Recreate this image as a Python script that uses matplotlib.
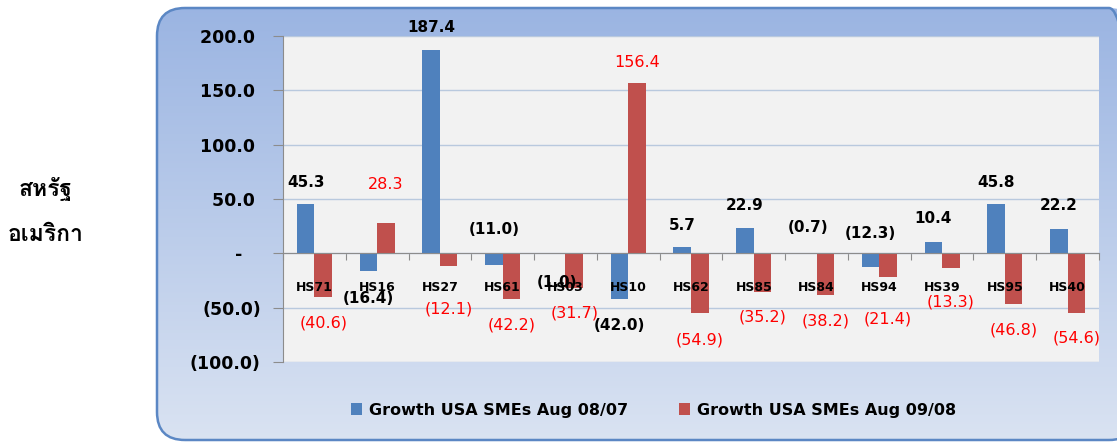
import numpy as np
import matplotlib
matplotlib.use('Agg')
import matplotlib.pyplot as plt
from matplotlib import font_manager
from matplotlib.ft2font import FT2Font
from matplotlib.patches import FancyBboxPatch

# Data
categories = ['HS71', 'HS16', 'HS27', 'HS61', 'HS03', 'HS10', 'HS62',
              'HS85', 'HS84', 'HS94', 'HS39', 'HS95', 'HS40']
growth_0807 = [45.3, -16.4, 187.4, -11.0, -1.0, -42.0, 5.7,
               22.9, -0.7, -12.3, 10.4, 45.8, 22.2]
growth_0908 = [-40.6, 28.3, -12.1, -42.2, -31.7, 156.4, -54.9,
               -35.2, -38.2, -21.4, -13.3, -46.8, -54.6]
series_names = ['Growth USA SMEs Aug 08/07', 'Growth USA SMEs Aug 09/08']
y_ticks = [200, 150, 100, 50, 0, -50, -100]
y_tick_labels = ['200.0 ', '150.0 ', '100.0 ', '50.0 ', '-   ', '(50.0)', '(100.0)']
country_label = 'สหรัฐ\nอเมริกา'

# Layout: where the data labels sit (data units), as placed in the original
label_y_0807 = [65, -41.5, 208, 22, -27, -66, 26, 44, 24, 18, 32, 65, 44]
label_y_0908 = [-64, 63, -51, -66, -55, 176, -80, -59, -62, -60, -45, -71, -78]
cat_label_y = -31

blue = '#4F81BD'
red = '#C0504D'


def fmt(v):
    return f'({abs(v):.1f})' if v < 0 else f'{v:.1f}'


def find_font(ch):
    for f in font_manager.fontManager.ttflist:
        try:
            if ord(ch) in FT2Font(f.fname).get_charmap():
                return f.name
        except Exception:
            pass
    return 'DejaVu Sans'


thai_font = find_font('ส')

W, H = 1117, 443
fig = plt.figure(figsize=(W / 100, H / 100), dpi=100)

# rounded gradient panel behind the chart
bg = fig.add_axes([0, 0, 1, 1], zorder=-2)
bg.set_xlim(0, W)
bg.set_ylim(0, H)
bg.axis('off')
grad = np.linspace(0, 1, 256).reshape(-1, 1)
cmap = matplotlib.colors.LinearSegmentedColormap.from_list('g', ['#DAE3F2', '#9AB4E2'])
box = FancyBboxPatch((157, 3), 980, 432, boxstyle='round,pad=0,rounding_size=28',
                     facecolor='none', edgecolor='#5B87C4', linewidth=1.8)
bg.add_patch(box)
im = bg.imshow(grad, cmap=cmap, extent=[150, 1140, 0, 440], origin='lower', aspect='auto')
im.set_clip_path(box)

ax = fig.add_axes([283 / W, 1 - 362 / H, (1099 - 283) / W, (362 - 36) / H])
ax.set_facecolor('#F2F2F2')

x = np.arange(len(categories))
bw = 0.28
ax.bar(x - bw / 2, growth_0807, width=bw, color=blue, zorder=3, label=series_names[0])
ax.bar(x + bw / 2, growth_0908, width=bw, color=red, zorder=3, label=series_names[1])

ax.set_xlim(-0.5, len(categories) - 0.5)
ax.set_ylim(-100, 200)
ax.set_yticks(y_ticks)
ax.set_yticklabels(y_tick_labels, fontsize=12.5, fontweight='bold')
ax.tick_params(axis='y', length=7, color='#8C8C8C', pad=9)
ax.yaxis.grid(True, color='#B9C9DE', linewidth=1, zorder=0)

for s in ['top', 'right']:
    ax.spines[s].set_visible(False)
ax.spines['left'].set_color('#8C8C8C')
ax.spines['bottom'].set_position(('data', 0))
ax.spines['bottom'].set_color('#8C8C8C')
ax.spines['bottom'].set_zorder(4)
ax.set_xticks(np.arange(len(categories) + 1) - 0.5)
ax.set_xticklabels([])
ax.tick_params(axis='x', length=5, color='#8C8C8C', direction='out')

for i, c in enumerate(categories):
    ax.text(i, cat_label_y, c, ha='center', va='center', fontsize=9,
            fontweight='bold', zorder=5)
for i, v in enumerate(growth_0807):
    ax.text(i - bw / 2, label_y_0807[i], fmt(v), ha='center', va='center',
            fontsize=11, fontweight='bold', color='black', zorder=6, clip_on=False)
for i, v in enumerate(growth_0908):
    ax.text(i + bw / 2, label_y_0908[i], fmt(v), ha='center', va='center',
            fontsize=11.5, color='red', zorder=6, clip_on=False)

leg = fig.legend(loc='center', bbox_to_anchor=(0.585, 1 - 410 / H), ncol=2, frameon=False,
                 fontsize=11.5, handlelength=0.7, handleheight=0.7, columnspacing=3.2,
                 handletextpad=0.4)
for t in leg.get_texts():
    t.set_fontweight('bold')

fig.text(46 / W, 1 - 211 / H, country_label, ha='center', va='center', fontsize=16.5,
         fontweight='bold', family=[thai_font, 'DejaVu Sans'], linespacing=2.45)

fig.savefig('out.png', dpi=100)
